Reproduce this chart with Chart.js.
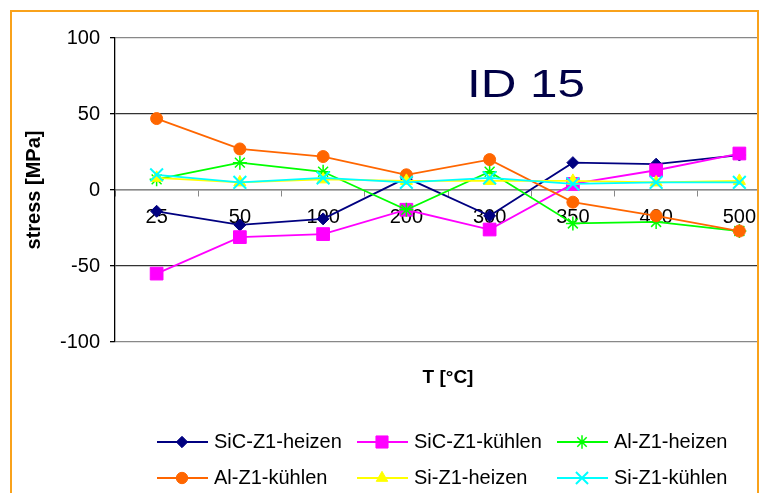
<!DOCTYPE html>
<html lang="de">
<head>
    <meta charset="UTF-8">
    <title>ID 15 - stress vs T</title>
    <style>
        html, body {
            margin: 0;
            padding: 0;
            background: #fff;
            overflow: hidden;
            width: 766px;
            height: 493px;
        }
        #frame {
            position: absolute;
            left: 10px;
            top: 10px;
            width: 745px;
            height: 500px;
            border: 2px solid #f9a21b;
            border-bottom: none;
            overflow: hidden;
            background: #fff;
        }
        #inner {
            position: absolute;
            left: -12px;
            top: -12px;
            width: 792px;
            height: 493px;
        }
    </style>
</head>
<body>
    <div id="frame">
        <div id="inner"><canvas id="stressChart"></canvas></div>
    </div>
    <script src="https://cdn.jsdelivr.net/npm/chart.js"></script>
    <script>
        // temperatures (categories) and stress values in MPa
        const temps = ['25', '50', '100', '200', '300', '350', '400', '500'];
        const sicHeizen = [-14, -23, -19, 8, -17, 18, 17, 23];
        const sicKuehlen = [-55, -31, -29, -13, -26, 4, 13, 24];
        const alHeizen = [7, 18, 12, -13, 12, -22, -21, -27];
        const alKuehlen = [47, 27, 22, 10, 20, -8, -17, -27];
        const siHeizen = [8, 5, 7, 6, 6, 6, 5, 6];
        const siKuehlen = [10, 5, 8, 5, 8, 4, 5, 5];
        const yTicks = [-100, -50, 0, 50, 100];

        const FONT = "'Liberation Sans', Arial, sans-serif";

        function series(label, data, color, style, radius, lw) {
            return {
                label: label,
                data: data,
                borderColor: color,
                backgroundColor: color,
                pointBackgroundColor: color,
                pointBorderColor: color,
                pointStyle: style,
                pointRadius: radius,
                pointBorderWidth: lw,
                borderWidth: 1.8,
                tension: 0,
                fill: false
            };
        }

        const datasets = [
            series('SiC-Z1-heizen', sicHeizen, '#000080', 'rectRot', 6, 1),
            series('SiC-Z1-kühlen', sicKuehlen, '#ff00ff', 'rect', 9, 1),
            series('Al-Z1-heizen', alHeizen, '#00ff00', 'star', 7, 1.5),
            series('Al-Z1-kühlen', alKuehlen, '#ff6600', 'circle', 6, 1),
            series('Si-Z1-heizen', siHeizen, '#ffff00', 'triangle', 7, 1),
            series('Si-Z1-kühlen', siKuehlen, '#00ffff', 'crossRot', 9, 2)
        ];
        // later series drawn on top, like the original
        datasets.forEach((d, i) => { d.order = datasets.length - i; });

        // texts, axis titles and the two-row legend
        const extras = {
            id: 'extras',
            afterDraw(chart) {
                const ctx = chart.ctx;
                const a = chart.chartArea;
                const cx = (a.left + a.right) / 2;
                ctx.save();

                // ID 15
                ctx.fillStyle = '#000046';
                ctx.font = '38px ' + FONT;
                ctx.textAlign = 'center';
                ctx.textBaseline = 'alphabetic';
                ctx.translate(a.left + 411, a.top + 59);
                ctx.scale(1.3, 1);
                ctx.fillText('ID 15', 0, 0);
                ctx.setTransform(1, 0, 0, 1, 0, 0);

                // axis titles
                ctx.fillStyle = '#000';
                ctx.font = 'bold 19px ' + FONT;
                ctx.textBaseline = 'middle';
                ctx.fillText('T [°C]', cx, a.bottom + 36);
                ctx.save();
                ctx.font = 'bold 20px ' + FONT;
                ctx.translate(34, (a.top + a.bottom) / 2);
                ctx.rotate(-Math.PI / 2);
                ctx.fillText('stress [MPa]', 0, 0);
                ctx.restore();

                // legend
                const colW = 200;
                const left0 = cx - 291;
                ctx.font = '20px ' + FONT;
                ctx.textAlign = 'left';
                chart.data.datasets.forEach((ds, i) => {
                    const col = i % 3;
                    const row = Math.floor(i / 3);
                    const x = left0 + col * colW;
                    const y = a.bottom + 100 + row * 36;
                    ctx.strokeStyle = ds.borderColor;
                    ctx.fillStyle = ds.borderColor;
                    ctx.lineWidth = 1.8;
                    ctx.beginPath();
                    ctx.moveTo(x, y);
                    ctx.lineTo(x + 51, y);
                    ctx.stroke();
                    if (Chart.helpers && Chart.helpers.drawPoint) {
                        ctx.lineWidth = ds.pointBorderWidth;
                        Chart.helpers.drawPoint(ctx, {
                            pointStyle: ds.pointStyle,
                            radius: ds.pointRadius * 0.95,
                            rotation: 0,
                            borderWidth: ds.pointBorderWidth
                        }, x + 25, y);
                    }
                    ctx.fillStyle = '#000';
                    ctx.fillText(ds.label, x + 57, y);
                });
                ctx.restore();
            }
        };

        new Chart(document.getElementById('stressChart'), {
            type: 'line',
            data: { labels: temps, datasets: datasets },
            options: {
                responsive: true,
                maintainAspectRatio: false,
                animation: false,
                layout: { padding: { left: 11, right: 11, top: 38, bottom: 151 } },
                plugins: {
                    legend: { display: false },
                    tooltip: { enabled: false }
                },
                scales: {
                    x: {
                        type: 'category',
                        offset: true,
                        position: { y: 0 },
                        grid: {
                            offset: true,
                            drawOnChartArea: false,
                            drawTicks: true,
                            tickLength: 6,
                            tickColor: '#888'
                        },
                        border: { color: '#888', width: 1.5 },
                        ticks: {
                            color: '#000',
                            font: { family: FONT, size: 20 },
                            padding: 9,
                            maxRotation: 0,
                            autoSkip: false
                        }
                    },
                    y: {
                        min: yTicks[0],
                        max: yTicks[yTicks.length - 1],
                        afterFit(scale) { scale.width = 104; },
                        afterBuildTicks(scale) {
                            scale.ticks = yTicks.map(v => ({ value: v }));
                        },
                        grid: {
                            color: ctx => (Math.abs(ctx.tick.value) === 50 ? '#333' : '#888'),
                            lineWidth: 1.3,
                            tickLength: 5,
                            tickColor: '#000'
                        },
                        border: { color: '#000', width: 1.3 },
                        ticks: {
                            color: '#000',
                            font: { family: FONT, size: 20 },
                            padding: 10
                        }
                    }
                }
            },
            plugins: [extras]
        });
    </script>
</body>
</html>
